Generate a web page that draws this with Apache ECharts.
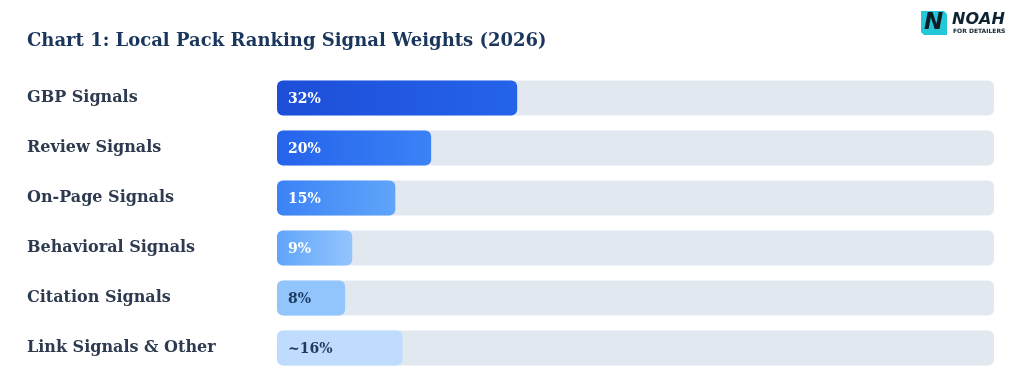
<!DOCTYPE html>
<html><head><meta charset="utf-8">
<script src="https://cdn.jsdelivr.net/npm/echarts@6/dist/echarts.min.js"></script>
<style>html,body{margin:0;padding:0;background:#fff}#c{width:1024px;height:383px}</style>
</head><body><div id="c"></div>
<script>
const categories = ['GBP Signals','Review Signals','On-Page Signals','Behavioral Signals','Citation Signals','Link Signals & Other'];
const values = [32, 20, 15, 9, 8, 16];
const valueLabels = ['32%','20%','15%','9%','8%','~16%'];
const titleText = 'Chart 1: Local Pack Ranking Signal Weights (2026)';

const axisMin = -1.5, axisMax = 98.5;
const gradients = [['#1d4ed8','#2563eb'],['#2563eb','#3b82f6'],['#3b82f6','#60a5fa'],['#60a5fa','#93c5fd'],['#93c5fd','#93c5fd'],['#bfdbfe','#bfdbfe']];
const labelColors = ['#ffffff','#ffffff','#ffffff','#ffffff','#1e3a5f','#1e3a5f'];
const serif = '"DejaVu Serif", Georgia, serif';

const chart = echarts.init(document.getElementById('c'));
chart.setOption({
  backgroundColor: '#ffffff',
  animation: false,
  title: {
    text: titleText, left: 27, top: 32, padding: 0,
    textStyle: { fontFamily: serif, fontWeight: 'bold', fontSize: 18, color: '#1a365d' }
  },
  grid: { left: 277, right: 30, top: 73, bottom: 10 },
  xAxis: { type: 'value', min: axisMin, max: axisMax, show: false },
  yAxis: {
    type: 'category', data: categories, inverse: true,
    axisLine: { show: false }, axisTick: { show: false }, splitLine: { show: false },
    axisLabel: { align: 'left', margin: 250, fontFamily: serif, fontWeight: 'bold', fontSize: 16, color: '#2d3a4f' }
  },
  series: [{
    type: 'custom',
    data: values.map((v, i) => [v, i]),
    encode: { x: 0, y: 1 },
    renderItem: function (params, api) {
      const i = api.value(1);
      const v = api.value(0);
      const start = api.coord([axisMin, i]);
      const end = api.coord([v, i]);
      const full = api.coord([axisMax, i]);
      const h = 35;
      const y = start[1] - h / 2;
      const g = gradients[i];
      return {
        type: 'group',
        children: [
          { type: 'rect', shape: { x: start[0], y: y, width: full[0] - start[0], height: h, r: 6 },
            style: { fill: '#e2e8f0' } },
          { type: 'rect', shape: { x: start[0], y: y, width: end[0] - start[0], height: h, r: 6 },
            style: { fill: new echarts.graphic.LinearGradient(0, 0, 1, 0, [{ offset: 0, color: g[0] }, { offset: 1, color: g[1] }]) } },
          { type: 'text', x: start[0] + 11, y: start[1] + 1,
            style: { text: valueLabels[i], fill: labelColors[i], font: 'bold 14px ' + serif, verticalAlign: 'middle', align: 'left' } }
        ]
      };
    }
  }],
  graphic: [
    { type: 'polygon', shape: { points: [[921, 11], [944, 11], [947, 14], [947, 35], [924, 35], [921, 32]] }, style: { fill: '#22c7d8' } },
    { type: 'text', x: 924, y: 12, style: { text: 'N', font: 'italic 900 23px "DejaVu Sans", sans-serif', fill: '#0f1b24' } },
    { type: 'text', x: 952, y: 12, style: { text: 'NOAH', font: 'italic bold 16px "DejaVu Sans", sans-serif', fill: '#0f2433' } },
    { type: 'text', x: 953, y: 28, style: { text: 'FOR DETAILERS', font: 'bold 6px "DejaVu Sans", sans-serif', fill: '#0f2433' } }
  ]
});
</script></body></html>
